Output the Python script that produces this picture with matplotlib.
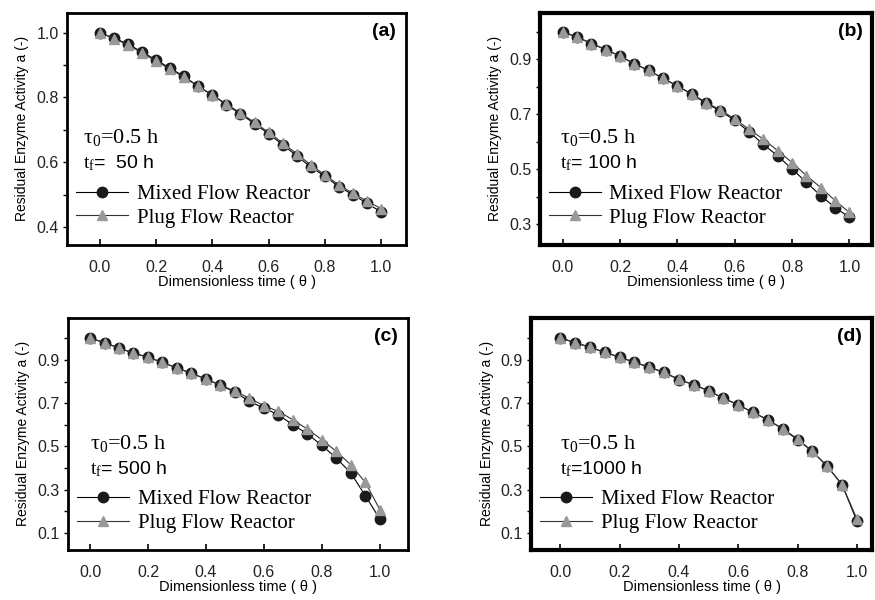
import numpy as np
import matplotlib
matplotlib.use("Agg")
from matplotlib import pyplot as plt
from matplotlib.ticker import MultipleLocator

# --------------------------------------------------------------------------------------------------
# Data
# --------------------------------------------------------------------------------------------------

theta = [0.00, 0.05, 0.10, 0.15, 0.20, 0.25, 0.30, 0.35, 0.40, 0.45, 0.50,
         0.55, 0.60, 0.65, 0.70, 0.75, 0.80, 0.85, 0.90, 0.95, 1.00]

mixed_a = [1.000, 0.983, 0.965, 0.940, 0.916, 0.890, 0.865, 0.834, 0.808, 0.777, 0.749,
           0.719, 0.688, 0.654, 0.620, 0.585, 0.557, 0.524, 0.500, 0.473, 0.447]
plug_a = [1.000, 0.982, 0.962, 0.937, 0.912, 0.887, 0.862, 0.834, 0.807, 0.780, 0.752,
          0.723, 0.692, 0.660, 0.626, 0.592, 0.561, 0.530, 0.504, 0.480, 0.457]

mixed_b = [1.000, 0.982, 0.958, 0.936, 0.912, 0.884, 0.860, 0.831, 0.803, 0.773, 0.740,
           0.712, 0.678, 0.636, 0.590, 0.548, 0.500, 0.452, 0.403, 0.360, 0.324]
plug_b = [1.000, 0.982, 0.958, 0.936, 0.912, 0.884, 0.860, 0.831, 0.803, 0.775, 0.743,
          0.716, 0.683, 0.645, 0.609, 0.567, 0.524, 0.476, 0.433, 0.385, 0.342]

mixed_c = [1.000, 0.980, 0.954, 0.931, 0.912, 0.888, 0.862, 0.838, 0.811, 0.782, 0.751,
           0.708, 0.677, 0.646, 0.600, 0.558, 0.505, 0.446, 0.377, 0.272, 0.165]
plug_c = [1.000, 0.980, 0.954, 0.931, 0.912, 0.888, 0.862, 0.838, 0.811, 0.784, 0.755,
          0.723, 0.688, 0.662, 0.623, 0.580, 0.531, 0.477, 0.415, 0.334, 0.208]

mixed_d = [1.000, 0.980, 0.958, 0.935, 0.912, 0.889, 0.865, 0.842, 0.808, 0.785, 0.757,
           0.723, 0.692, 0.657, 0.623, 0.580, 0.531, 0.477, 0.408, 0.323, 0.155]
plug_d = [1.000, 0.980, 0.958, 0.935, 0.912, 0.889, 0.867, 0.842, 0.810, 0.785, 0.757,
          0.723, 0.692, 0.657, 0.623, 0.582, 0.535, 0.477, 0.410, 0.323, 0.165]

panel_tags = ["(a)", "(b)", "(c)", "(d)"]
tf_labels = ["50 h", "100 h", "500 h", "1000 h"]
tf_gaps = ["  ", " ", " ", ""]
mixed_all = [mixed_a, mixed_b, mixed_c, mixed_d]
plug_all = [plug_a, plug_b, plug_c, plug_d]

# --------------------------------------------------------------------------------------------------
# Layout
# --------------------------------------------------------------------------------------------------

plt.rcParams['mathtext.fontset'] = 'custom'
plt.rcParams['mathtext.rm'] = 'Liberation Serif'
plt.rcParams['mathtext.it'] = 'Liberation Serif'

fig = plt.figure(figsize=(8.75, 6.0), dpi=100)

# [left, bottom, width, height] for each panel
boxes = [[0.0766, 0.592, 0.3874, 0.387],
         [0.617, 0.592, 0.380, 0.387],
         [0.0777, 0.0833, 0.3886, 0.387],
         [0.607, 0.0833, 0.390, 0.387]]
xlims = [(-0.117, 1.089), (-0.080, 1.080), (-0.076, 1.097), (-0.098, 1.052)]
ylims = [(0.345, 1.062), (0.224, 1.071), (0.022, 1.094), (0.022, 1.094)]
yticks = [[0.4, 0.6, 0.8, 1.0], [0.3, 0.5, 0.7, 0.9],
          [0.1, 0.3, 0.5, 0.7, 0.9], [0.1, 0.3, 0.5, 0.7, 0.9]]
spine_w = [2.0, 3.0, 2.0, 3.0]
text_x = [0.047, 0.06, 0.065, 0.084]

sans = 'Liberation Sans'
serif = 'Liberation Serif'

for i in range(4):
    ax = fig.add_axes(boxes[i])
    ax.plot(theta, mixed_all[i], color='black', lw=0.8, marker='o', ms=7.5,
            mfc='#1a1a1a', mec='#1a1a1a', label='Mixed Flow Reactor', zorder=3)
    ax.plot(theta, plug_all[i], color='#333333', lw=0.8, marker='^', ms=7.5,
            mfc='#999999', mec='#999999', label='Plug Flow Reactor', zorder=3)

    ax.set_xlim(*xlims[i])
    ax.set_ylim(*ylims[i])
    ax.set_xticks([0.0, 0.2, 0.4, 0.6, 0.8, 1.0])
    ax.set_xticklabels(['0.0', '0.2', '0.4', '0.6', '0.8', '1.0'])
    ax.set_yticks(yticks[i])
    ax.set_yticklabels(['%.1f' % v for v in yticks[i]])
    ax.yaxis.set_minor_locator(MultipleLocator(0.1))
    ax.tick_params(axis='x', direction='in', length=4, width=1.2, pad=11,
                   labelsize=11.5)
    ax.tick_params(axis='y', which='both', direction='out', length=3, width=1.0,
                   labelsize=11.5, pad=3)
    for lab in ax.get_xticklabels() + ax.get_yticklabels():
        lab.set_family(sans)
        lab.set_color('#222222')
    for sp in ax.spines.values():
        sp.set_linewidth(spine_w[i])

    ax.set_xlabel('Dimensionless time ( θ )', family=sans, fontsize=10.5,
                  labelpad=0)
    ax.set_ylabel('Residual Enzyme Activity a (-)', family=sans, fontsize=10,
                  labelpad=5)

    ax.text(0.97, 0.955, panel_tags[i], transform=ax.transAxes, ha='right', va='top',
            family=sans, fontweight='bold', fontsize=14)
    ax.text(text_x[i], 0.46, r'$\mathrm{τ_0}$=0.5 h', transform=ax.transAxes,
            family=serif, fontsize=16, va='center')
    ax.text(text_x[i], 0.35, r'$\mathrm{t_f}$=' + tf_gaps[i] + tf_labels[i],
            transform=ax.transAxes, family=sans, fontsize=14, va='center')

    ax.legend(loc='lower left', bbox_to_anchor=(-0.01, 0.02), frameon=False,
              prop={'family': serif, 'size': 15}, handlelength=2.5,
              handletextpad=0.4, labelspacing=0.2, borderaxespad=0.2)

fig.savefig('out.png', dpi=100)
